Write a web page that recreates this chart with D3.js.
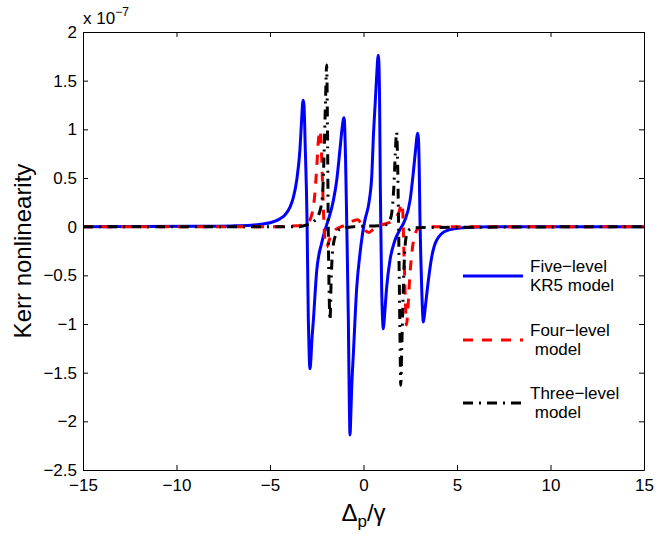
<!DOCTYPE html>
<html>
<head>
<meta charset="utf-8">
<script src="https://cdn.jsdelivr.net/npm/d3@7/dist/d3.min.js"></script>
<style>
  html, body { margin: 0; padding: 0; background: #fff; }
  text { font-family: "Liberation Sans", Arial, Helvetica, sans-serif; fill: #000; }
</style>
</head>
<body>
<div id="chart"></div>
<script>
(function() {

  // kerr nonlinearity, in units of 1e-7: [detuning, value]
  let fiveLevel = [
    [-15,0],[-9,0.004],[-7,0.008],[-6,0.015],[-5.5,0.025],[-5,0.04],[-4.47,0.08],[-4.2,0.12],
    [-3.93,0.2],[-3.75,0.3],[-3.57,0.48],[-3.4,0.79],[-3.3,1.13],[-3.26,1.26],[-3.22,1.30],
    [-3.18,1.24],[-3.12,0.85],[-3.02,0.07],[-2.95,-0.96],[-2.9,-1.35],[-2.86,-1.46],[-2.81,-1.35],
    [-2.77,-1.2],[-2.68,-0.96],[-2.5,-0.45],[-2.24,-0.17],[-2.0,0.0],[-1.88,0.07],[-1.61,0.27],
    [-1.43,0.48],[-1.26,0.79],[-1.12,1.05],[-1.07,1.11],[-1.04,1.12],[-1.0,1.0],[-0.96,0.7],
    [-0.9,0.07],[-0.81,-0.96],[-0.76,-1.8],[-0.72,-2.14],[-0.68,-1.95],[-0.63,-1.65],[-0.54,-1.3],
    [-0.36,-0.62],[-0.19,-0.28],[-0.05,-0.07],[0.08,0.07],[0.31,0.27],[0.45,0.55],[0.52,0.89],
    [0.62,1.25],[0.71,1.57],[0.76,1.72],[0.79,1.76],[0.82,1.7],[0.86,1.3],[0.9,0.4],[0.94,-0.2],
    [0.97,-0.62],[1.02,-0.95],[1.06,-1.05],[1.1,-0.98],[1.15,-0.85],[1.24,-0.62],[1.42,-0.34],
    [1.68,-0.14],[1.95,-0.03],[2.13,0.03],[2.22,0.07],[2.49,0.27],[2.66,0.55],[2.8,0.82],
    [2.86,0.93],[2.9,0.96],[2.94,0.9],[2.98,0.6],[3.02,0.07],[3.07,-0.35],[3.11,-0.62],
    [3.16,-0.88],[3.2,-0.98],[3.25,-0.92],[3.32,-0.8],[3.47,-0.55],[3.65,-0.31],[3.91,-0.14],
    [4.45,-0.04],[5.3,-0.01],[7,0],[15,0]
  ];

  let fourLevel = [
    [-15,0],[-5,0],[-3.5,0.01],[-3.03,0.03],[-2.77,0.12],[-2.6,0.34],[-2.5,0.61],[-2.41,0.89],
    [-2.33,0.99],[-2.27,0.88],[-2.2,0.5],[-2.14,0.15],[-2.08,-0.1],[-1.97,-0.21],[-1.82,-0.13],
    [-1.6,-0.05],[-1.3,-0.01],[-0.9,0.02],[-0.55,0.06],[-0.3,0.07],[-0.1,0.02],[0.1,-0.04],
    [0.3,-0.06],[0.5,-0.03],[0.8,0.01],[1.2,0.03],[1.6,0.07],[1.9,0.15],[2.04,0.24],[2.1,0.15],
    [2.16,-0.25],[2.23,-0.7],[2.3,-1.01],[2.38,-0.82],[2.48,-0.5],[2.58,-0.28],[2.72,-0.1],
    [2.93,-0.02],[3.4,0],[15,0]
  ];

  let threeLevel = [
    [-15,0],[-3.5,0],[-3,0.02],[-2.68,0.05],[-2.4,0.12],[-2.2,0.3],[-2.1,0.8],[-2.03,1.3],
    [-1.97,1.66],[-1.93,1.1],[-1.89,0.1],[-1.84,-0.65],[-1.79,-0.96],[-1.73,-0.55],[-1.64,-0.22],
    [-1.45,-0.07],[-1.2,-0.02],[-0.5,0],[0.8,0.01],[1.2,0.02],[1.4,0.06],[1.51,0.14],[1.62,0.4],
    [1.7,0.75],[1.77,0.97],[1.83,0.6],[1.87,0.1],[1.91,-0.5],[1.95,-1.1],[1.99,-1.63],[2.04,-1.3],
    [2.1,-0.85],[2.17,-0.4],[2.26,-0.13],[2.4,-0.04],[2.7,-0.01],[15,0]
  ];

  let xTicks = [-15, -10, -5, 0, 5, 10, 15];
  let yTicks = [-2.5, -2, -1.5, -1, -0.5, 0, 0.5, 1, 1.5, 2];

  let legendItems = [
    { lines: ["Five\u2212level", "KR5 model"], data: fiveLevel },
    { lines: ["Four\u2212level", " model"],    data: fourLevel },
    { lines: ["Three\u2212level", " model"],   data: threeLevel }
  ];

  let width  = 656,
      height = 535;

  let left = 83, right = 644, top = 32, bottom = 470;

  let styles = [
    { color: "#0000ff", dash: null },
    { color: "#ff0000", dash: "10,9" },
    { color: "#000000", dash: "10,6,2,6" }
  ];

  let svg = d3.select("#chart")
    .append ("svg")
    .attr   ("width", width)
    .attr   ("height", height);

  let x = d3.scaleLinear()
    .domain ([-15, 15])
    .range  ([left, right]);

  let y = d3.scaleLinear()
    .domain ([-2.5, 2])
    .range  ([bottom, top]);

  svg.append("defs").append("clipPath")
    .attr   ("id", "plot-clip")
    .append ("rect")
    .attr   ("x", left)
    .attr   ("y", top)
    .attr   ("width", right - left)
    .attr   ("height", bottom - top);

  // curves
  let line = d3.line()
    .x     ((d) => x(d[0]))
    .y     ((d) => y(d[1]))
    .curve (d3.curveMonotoneX);

  let plot = svg.append("g").attr("clip-path", "url(#plot-clip)");

  legendItems.forEach((item, i) => {
    plot.append("path")
      .attr ("d", line(item.data))
      .attr ("fill", "none")
      .attr ("stroke", styles[i].color)
      .attr ("stroke-width", 3)
      .attr ("stroke-dasharray", styles[i].dash);
  });

  // axes with inward ticks on all four sides
  let fmt = d3.format("~g");

  svg.append("g")
    .attr ("transform", `translate(0,${bottom})`)
    .call (d3.axisBottom(x).tickValues(xTicks).tickFormat(fmt).tickSizeInner(-5).tickSizeOuter(0).tickPadding(9));

  svg.append("g")
    .attr ("transform", `translate(0,${top})`)
    .call (d3.axisTop(x).tickValues(xTicks).tickFormat("").tickSizeInner(-5).tickSizeOuter(0));

  svg.append("g")
    .attr ("transform", `translate(${left},0)`)
    .call (d3.axisLeft(y).tickValues(yTicks).tickFormat(fmt).tickSizeInner(-5).tickSizeOuter(0).tickPadding(6));

  svg.append("g")
    .attr ("transform", `translate(${right},0)`)
    .call (d3.axisRight(y).tickValues(yTicks).tickFormat("").tickSizeInner(-5).tickSizeOuter(0));

  svg.selectAll(".tick text")
    .style ("font-size", "17px")
    .style ("font-family", "'Liberation Sans', Arial, sans-serif");

  svg.selectAll(".domain, .tick line")
    .attr ("stroke", "#000")
    .attr ("stroke-width", 1);

  // exponent label
  let expo = svg.append("text")
    .attr  ("x", left)
    .attr  ("y", 24)
    .style ("font-size", "17px");
  expo.append("tspan").text("x 10");
  expo.append("tspan")
    .attr  ("dy", -8)
    .style ("font-size", "12px")
    .text  ("\u22127");

  // axis titles
  let xt = svg.append("text")
    .attr  ("x", (left + right) / 2)
    .attr  ("y", 521)
    .attr  ("text-anchor", "middle")
    .style ("font-size", "24px");
  xt.append("tspan").text("\u0394");
  xt.append("tspan").attr("dy", 6).style("font-size", "17px").text("p");
  xt.append("tspan").attr("dy", -6).text("/\u03b3");

  svg.append("text")
    .attr  ("transform", `translate(31,${(top + bottom) / 2}) rotate(-90)`)
    .attr  ("text-anchor", "middle")
    .style ("font-size", "24px")
    .text  ("Kerr nonlinearity");

  // legend
  let legendY = [276, 340, 403];

  legendItems.forEach((item, i) => {
    let g = svg.append("g").attr("transform", `translate(0,${legendY[i]})`);

    g.append("line")
      .attr ("x1", 463)
      .attr ("x2", 523)
      .attr ("stroke", styles[i].color)
      .attr ("stroke-width", 3)
      .attr ("stroke-dasharray", styles[i].dash);

    g.selectAll("text")
      .data  (item.lines)
      .enter ().append("text")
      .attr  ("x", 530)
      .attr  ("y", (d, j) => j === 0 ? -4 : 15)
      .style ("font-size", "17px")
      .style ("white-space", "pre")
      .text  ((d) => d);
  });

})();
</script>
</body>
</html>
